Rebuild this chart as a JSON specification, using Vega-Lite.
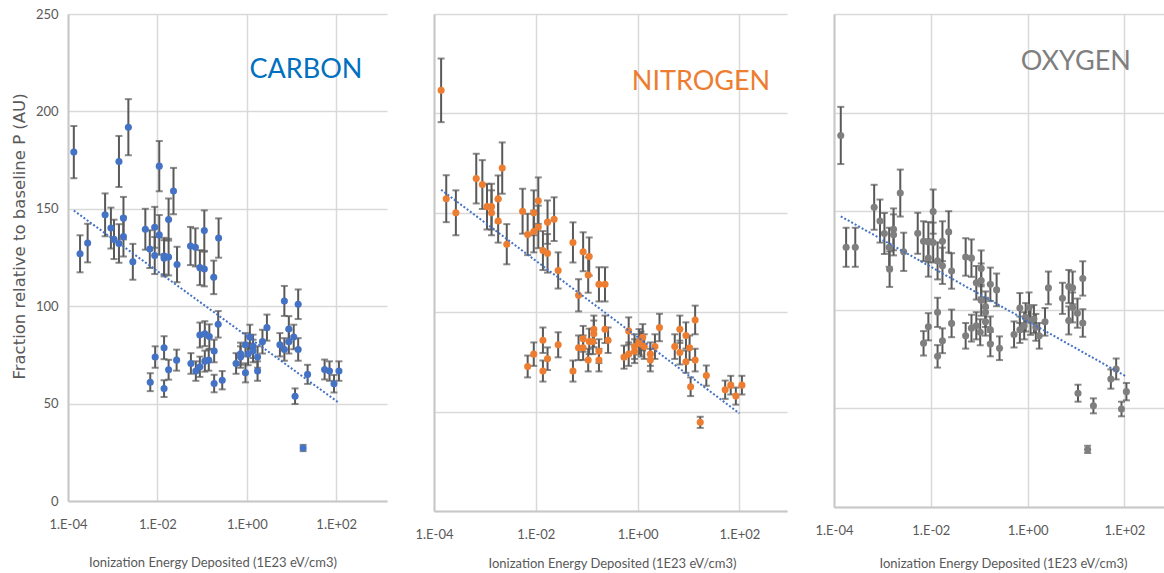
{
  "$schema": "https://vega.github.io/schema/vega-lite/v6.json",
  "padding": {"left": 11, "top": 8, "right": 0, "bottom": 0},
  "background": "white",
  "datasets": {
    "pts": [
      {"el":"C","x":0.000135,"y":179.1,"e":13.4},{"el":"C","x":0.000186,"y":126.9,"e":9.5},{"el":"C","x":0.000275,"y":132.4,"e":9.9},{"el":"C","x":0.000676,"y":146.9,"e":11.0},{"el":"C","x":0.000912,"y":140.1,"e":10.5},{"el":"C","x":0.00107,"y":134.3,"e":10.1},{"el":"C","x":0.00138,"y":174.3,"e":13.1},{"el":"C","x":0.00138,"y":132.2,"e":9.9},{"el":"C","x":0.00174,"y":135.7,"e":10.2},{"el":"C","x":0.00174,"y":145.2,"e":10.9},{"el":"C","x":0.00224,"y":191.9,"e":14.4},{"el":"C","x":0.00282,"y":122.8,"e":9.2},{"el":"C","x":0.00537,"y":139.5,"e":10.5},{"el":"C","x":0.00676,"y":129.3,"e":9.7},{"el":"C","x":0.00871,"y":140.5,"e":10.5},{"el":"C","x":0.00871,"y":126.0,"e":9.5},{"el":"C","x":0.0110,"y":171.9,"e":12.9},{"el":"C","x":0.0110,"y":136.6,"e":10.2},{"el":"C","x":0.0141,"y":125.7,"e":9.4},{"el":"C","x":0.0141,"y":124.6,"e":9.3},{"el":"C","x":0.0178,"y":144.5,"e":10.8},{"el":"C","x":0.0178,"y":125.2,"e":9.4},{"el":"C","x":0.0229,"y":159.1,"e":11.9},{"el":"C","x":0.0275,"y":121.4,"e":9.1},{"el":"C","x":0.0550,"y":130.9,"e":9.8},{"el":"C","x":0.0708,"y":130.2,"e":9.8},{"el":"C","x":0.0891,"y":119.8,"e":9.0},{"el":"C","x":0.112,"y":119.1,"e":8.9},{"el":"C","x":0.112,"y":138.8,"e":10.4},{"el":"C","x":0.182,"y":114.8,"e":8.6},{"el":"C","x":0.234,"y":135.0,"e":10.1},
      {"el":"C","x":0.229,"y":90.7,"e":6.8},{"el":"C","x":0.0891,"y":85.2,"e":6.4},{"el":"C","x":0.115,"y":85.9,"e":6.4},{"el":"C","x":0.145,"y":84.4,"e":6.3},{"el":"C","x":0.186,"y":77.0,"e":5.8},{"el":"C","x":0.141,"y":72.3,"e":5.4},{"el":"C","x":0.115,"y":71.8,"e":5.4},{"el":"C","x":0.0891,"y":68.9,"e":5.2},{"el":"C","x":0.0724,"y":66.7,"e":5.0},{"el":"C","x":0.0562,"y":70.6,"e":5.3},{"el":"C","x":0.0269,"y":72.3,"e":5.4},{"el":"C","x":0.0178,"y":67.4,"e":5.1},{"el":"C","x":0.0141,"y":78.7,"e":5.9},{"el":"C","x":0.00891,"y":73.9,"e":5.5},{"el":"C","x":0.00692,"y":61.0,"e":4.6},{"el":"C","x":0.0141,"y":57.7,"e":4.3},{"el":"C","x":0.186,"y":60.3,"e":4.5},{"el":"C","x":0.282,"y":62.0,"e":4.7},
      {"el":"C","x":0.575,"y":70.6,"e":5.3},{"el":"C","x":0.724,"y":73.9,"e":5.5},{"el":"C","x":0.724,"y":75.6,"e":5.7},{"el":"C","x":0.933,"y":65.8,"e":4.9},{"el":"C","x":0.933,"y":80.2,"e":6.0},{"el":"C","x":1.07,"y":75.4,"e":5.7},{"el":"C","x":1.17,"y":84.2,"e":6.3},{"el":"C","x":1.38,"y":79.4,"e":6.0},{"el":"C","x":1.38,"y":77.0,"e":5.8},{"el":"C","x":1.74,"y":73.9,"e":5.5},{"el":"C","x":1.74,"y":66.7,"e":5.0},{"el":"C","x":2.24,"y":81.8,"e":6.1},{"el":"C","x":2.82,"y":89.0,"e":6.7},{"el":"C","x":5.50,"y":80.2,"e":6.0},{"el":"C","x":6.92,"y":102.7,"e":7.7},{"el":"C","x":6.92,"y":77.8,"e":5.8},{"el":"C","x":8.71,"y":88.3,"e":6.6},{"el":"C","x":8.71,"y":81.8,"e":6.1},{"el":"C","x":11.2,"y":84.2,"e":6.3},{"el":"C","x":12.0,"y":53.8,"e":4.0},{"el":"C","x":14.1,"y":101.0,"e":7.6},{"el":"C","x":14.1,"y":77.8,"e":5.8},{"el":"C","x":18.2,"y":27.2,"e":1.6},{"el":"C","x":22.9,"y":65.0,"e":4.9},{"el":"C","x":55.0,"y":67.5,"e":5.1},{"el":"C","x":70.8,"y":66.7,"e":5.0},{"el":"C","x":89.1,"y":60.2,"e":4.5},{"el":"C","x":115,"y":66.7,"e":5.0},

      {"el":"N","x":0.000138,"y":211.6,"e":16.0},{"el":"N","x":0.000174,"y":157.1,"e":11.8},{"el":"N","x":0.000269,"y":150.0,"e":11.3},{"el":"N","x":0.000676,"y":167.2,"e":12.5},{"el":"N","x":0.000891,"y":164.2,"e":12.3},{"el":"N","x":0.00110,"y":153.1,"e":11.5},{"el":"N","x":0.00135,"y":153.1,"e":11.5},{"el":"N","x":0.00135,"y":150.0,"e":11.3},{"el":"N","x":0.00182,"y":157.0,"e":11.8},{"el":"N","x":0.00182,"y":145.9,"e":10.9},{"el":"N","x":0.00219,"y":172.5,"e":12.9},{"el":"N","x":0.00269,"y":134.2,"e":10.1},{"el":"N","x":0.00550,"y":150.8,"e":11.3},{"el":"N","x":0.00692,"y":139.1,"e":10.4},{"el":"N","x":0.00912,"y":150.0,"e":11.3},{"el":"N","x":0.00912,"y":140.6,"e":10.5},{"el":"N","x":0.0112,"y":156.1,"e":11.7},{"el":"N","x":0.0112,"y":142.9,"e":10.7},{"el":"N","x":0.0138,"y":131.0,"e":9.8},{"el":"N","x":0.0170,"y":129.6,"e":9.7},{"el":"N","x":0.0170,"y":145.3,"e":10.9},{"el":"N","x":0.0229,"y":146.8,"e":11.0},{"el":"N","x":0.0275,"y":121.0,"e":9.1},{"el":"N","x":0.0537,"y":135.1,"e":10.1},{"el":"N","x":0.0692,"y":108.5,"e":8.1},{"el":"N","x":0.0851,"y":130.4,"e":9.8},{"el":"N","x":0.112,"y":128.0,"e":9.6},{"el":"N","x":0.107,"y":118.7,"e":8.9},{"el":"N","x":0.174,"y":114.0,"e":8.6},{"el":"N","x":0.229,"y":114.0,"e":8.6},
      {"el":"N","x":0.00692,"y":72.7,"e":5.5},{"el":"N","x":0.00912,"y":78.9,"e":5.9},{"el":"N","x":0.0138,"y":85.9,"e":6.4},{"el":"N","x":0.0138,"y":70.4,"e":5.3},{"el":"N","x":0.0170,"y":76.6,"e":5.7},{"el":"N","x":0.0275,"y":83.6,"e":6.3},{"el":"N","x":0.0537,"y":70.4,"e":5.3},{"el":"N","x":0.0692,"y":82.1,"e":6.2},{"el":"N","x":0.0851,"y":86.6,"e":6.5},{"el":"N","x":0.0851,"y":82.1,"e":6.2},{"el":"N","x":0.107,"y":75.9,"e":5.7},{"el":"N","x":0.112,"y":85.3,"e":6.4},{"el":"N","x":0.138,"y":91.4,"e":6.9},{"el":"N","x":0.138,"y":89.1,"e":6.7},{"el":"N","x":0.132,"y":85.3,"e":6.4},{"el":"N","x":0.174,"y":80.4,"e":6.0},{"el":"N","x":0.174,"y":75.9,"e":5.7},{"el":"N","x":0.229,"y":91.4,"e":6.9},{"el":"N","x":0.263,"y":85.9,"e":6.4},
      {"el":"N","x":0.541,"y":77.4,"e":5.8},{"el":"N","x":0.668,"y":78.9,"e":5.9},{"el":"N","x":0.668,"y":90.6,"e":6.8},{"el":"N","x":0.871,"y":80.4,"e":6.0},{"el":"N","x":0.871,"y":82.7,"e":6.2},{"el":"N","x":1.07,"y":85.1,"e":6.4},{"el":"N","x":1.26,"y":87.4,"e":6.6},{"el":"N","x":1.35,"y":82.7,"e":6.2},{"el":"N","x":1.17,"y":84.0,"e":6.3},{"el":"N","x":1.78,"y":78.9,"e":5.9},{"el":"N","x":1.78,"y":75.9,"e":5.7},{"el":"N","x":2.19,"y":82.7,"e":6.2},{"el":"N","x":2.69,"y":92.3,"e":6.9},{"el":"N","x":5.37,"y":82.7,"e":6.2},{"el":"N","x":6.76,"y":91.4,"e":6.9},{"el":"N","x":6.76,"y":79.7,"e":6.0},{"el":"N","x":8.91,"y":88.3,"e":6.6},{"el":"N","x":8.91,"y":75.1,"e":5.6},{"el":"N","x":10.5,"y":82.1,"e":6.2},{"el":"N","x":11.0,"y":62.5,"e":4.7},{"el":"N","x":13.5,"y":96.1,"e":7.2},{"el":"N","x":13.5,"y":75.9,"e":5.7},{"el":"N","x":17.0,"y":44.6,"e":2.8},{"el":"N","x":22.4,"y":68.1,"e":5.1},{"el":"N","x":52.5,"y":61.0,"e":4.6},{"el":"N","x":67.6,"y":63.3,"e":4.7},{"el":"N","x":85.1,"y":57.8,"e":4.3},{"el":"N","x":112,"y":63.3,"e":4.7},

      {"el":"O","x":0.000138,"y":188.4,"e":14.5},{"el":"O","x":0.000178,"y":131.7,"e":9.9},{"el":"O","x":0.000275,"y":131.7,"e":9.9},{"el":"O","x":0.000676,"y":152.0,"e":11.4},{"el":"O","x":0.000891,"y":145.0,"e":10.9},{"el":"O","x":0.00110,"y":138.7,"e":10.4},{"el":"O","x":0.00138,"y":131.7,"e":9.9},{"el":"O","x":0.00141,"y":120.6,"e":9.0},{"el":"O","x":0.00170,"y":140.8,"e":10.6},{"el":"O","x":0.00170,"y":138.0,"e":10.4},{"el":"O","x":0.00234,"y":159.2,"e":11.9},{"el":"O","x":0.00275,"y":129.4,"e":9.7},{"el":"O","x":0.00537,"y":138.8,"e":10.4},{"el":"O","x":0.00708,"y":134.8,"e":10.1},{"el":"O","x":0.00891,"y":126.3,"e":9.5},{"el":"O","x":0.00891,"y":134.4,"e":10.1},{"el":"O","x":0.0112,"y":149.8,"e":11.2},{"el":"O","x":0.0112,"y":134.1,"e":10.1},{"el":"O","x":0.0138,"y":124.8,"e":9.4},{"el":"O","x":0.0174,"y":134.8,"e":10.1},{"el":"O","x":0.0174,"y":122.3,"e":9.2},{"el":"O","x":0.0234,"y":139.5,"e":10.5},{"el":"O","x":0.0269,"y":119.7,"e":9.0},{"el":"O","x":0.0525,"y":126.8,"e":9.5},{"el":"O","x":0.0692,"y":126.2,"e":9.5},{"el":"O","x":0.0871,"y":113.7,"e":8.5},{"el":"O","x":0.110,"y":114.9,"e":8.6},{"el":"O","x":0.110,"y":104.9,"e":7.9},{"el":"O","x":0.110,"y":121.0,"e":9.1},{"el":"O","x":0.135,"y":101.7,"e":7.6},{"el":"O","x":0.170,"y":112.9,"e":8.5},{"el":"O","x":0.229,"y":110.1,"e":8.3},
      {"el":"O","x":0.00708,"y":83.0,"e":6.2},{"el":"O","x":0.00891,"y":91.4,"e":6.9},{"el":"O","x":0.0138,"y":98.7,"e":7.4},{"el":"O","x":0.0138,"y":76.4,"e":5.7},{"el":"O","x":0.0174,"y":84.3,"e":6.3},{"el":"O","x":0.0269,"y":93.1,"e":7.0},{"el":"O","x":0.0525,"y":86.8,"e":6.5},{"el":"O","x":0.0692,"y":90.7,"e":6.8},{"el":"O","x":0.0871,"y":91.9,"e":6.9},{"el":"O","x":0.105,"y":88.6,"e":6.6},{"el":"O","x":0.135,"y":93.9,"e":7.0},{"el":"O","x":0.135,"y":98.7,"e":7.4},{"el":"O","x":0.170,"y":89.9,"e":6.7},{"el":"O","x":0.170,"y":82.6,"e":6.2},{"el":"O","x":0.263,"y":80.5,"e":6.0},
      {"el":"O","x":0.525,"y":87.5,"e":6.6},{"el":"O","x":0.692,"y":89.9,"e":6.7},{"el":"O","x":0.692,"y":100.9,"e":7.6},{"el":"O","x":0.851,"y":91.9,"e":6.9},{"el":"O","x":0.912,"y":96.2,"e":7.2},{"el":"O","x":1.07,"y":101.2,"e":7.6},{"el":"O","x":1.15,"y":94.4,"e":7.1},{"el":"O","x":1.35,"y":95.3,"e":7.1},{"el":"O","x":1.48,"y":91.1,"e":6.8},{"el":"O","x":1.74,"y":86.8,"e":6.5},{"el":"O","x":2.29,"y":93.9,"e":7.0},{"el":"O","x":2.69,"y":111.1,"e":8.3},{"el":"O","x":5.25,"y":105.8,"e":7.9},{"el":"O","x":7.08,"y":111.8,"e":8.4},{"el":"O","x":7.08,"y":94.6,"e":7.1},{"el":"O","x":8.51,"y":111.1,"e":8.3},{"el":"O","x":8.51,"y":101.2,"e":7.6},{"el":"O","x":10.7,"y":98.3,"e":7.4},{"el":"O","x":13.8,"y":115.9,"e":8.7},{"el":"O","x":13.8,"y":93.3,"e":7.0},{"el":"O","x":11.0,"y":57.7,"e":4.3},{"el":"O","x":17.4,"y":29.2,"e":1.8},{"el":"O","x":22.9,"y":51.3,"e":3.8},{"el":"O","x":52.5,"y":64.9,"e":4.9},{"el":"O","x":67.6,"y":70.0,"e":5.3},{"el":"O","x":87.1,"y":49.7,"e":3.7},{"el":"O","x":110,"y":58.5,"e":4.4}
    ],
    "trend": [
      {"el":"C","x":0.000135,"y":149.1},{"el":"C","x":115,"y":50.4},
      {"el":"N","x":0.000138,"y":161.6},{"el":"N","x":100,"y":49.1},
      {"el":"O","x":0.000138,"y":147.4},{"el":"O","x":107,"y":66.3}
    ]
  },
  "hconcat": [
    {
      "width": 319, "height": 487,
      "layer": [
        {
          "data": {"name": "pts"}, "transform": [{"filter": "datum.el === 'C'"}],
          "mark": {"type": "errorbar", "ticks": {"size": 7, "thickness": 2}, "thickness": 2, "color": "#595959"},
          "encoding": {
            "x": {"field": "x", "type": "quantitative", "scale": {"type": "log", "domain": [0.0001, 1368], "nice": false},
              "axis": {"values": [0.0001, 0.01, 1, 100], "labelExpr": "'1.E' + (round(log(datum.value)/LN10) < 0 ? '-' : '+') + '0' + abs(round(log(datum.value)/LN10))", "title": "Ionization Energy Deposited (1E23 eV/cm3)", "titlePadding": 25, "titleX": 144.5}},
            "y": {"field": "y", "type": "quantitative", "scale": {"domain": [0, 250], "nice": false},
              "axis": {"values": [0, 50, 100, 150, 200, 250], "title": "Fraction relative to baseline P (AU)", "titleFont": "DejaVu Sans", "titleFontSize": 16.5, "titlePadding": 8, "labelPadding": 10, "titleY": 222}},
            "yError": {"field": "e"}
          }
        },
        {
          "data": {"name": "pts"}, "transform": [{"filter": "datum.el === 'C'"}],
          "mark": {"type": "circle", "size": 50, "opacity": 1, "color": "#4472C4"},
          "encoding": {"x": {"field": "x", "type": "quantitative"}, "y": {"field": "y", "type": "quantitative"}}
        },
        {
          "data": {"name": "trend"}, "transform": [{"filter": "datum.el === 'C'"}],
          "mark": {"type": "line", "strokeDash": [2, 2], "strokeWidth": 2, "color": "#4472C4"},
          "encoding": {"x": {"field": "x", "type": "quantitative"}, "y": {"field": "y", "type": "quantitative"}}
        },
        {
          "data": {"values": [{}]},
          "mark": {"type": "text", "fontSize": 27, "color": "#0070C0", "align": "center", "baseline": "middle"},
          "encoding": {"x": {"datum": 21, "type": "quantitative"}, "y": {"datum": 221, "type": "quantitative"}, "text": {"value": "CARBON"}}
        }
      ]
    },
    {
      "width": 353, "height": 497,
      "layer": [
        {
          "data": {"name": "pts"}, "transform": [{"filter": "datum.el === 'N'"}],
          "mark": {"type": "errorbar", "ticks": {"size": 7, "thickness": 2}, "thickness": 2, "color": "#595959"},
          "encoding": {
            "x": {"field": "x", "type": "quantitative", "scale": {"type": "log", "domain": [0.0001, 861], "nice": false},
              "axis": {"values": [0.0001, 0.01, 1, 100], "labelExpr": "'1.E' + (round(log(datum.value)/LN10) < 0 ? '-' : '+') + '0' + abs(round(log(datum.value)/LN10))", "title": "Ionization Energy Deposited (1E23 eV/cm3)", "titlePadding": 16, "titleX": 178}},
            "y": {"field": "y", "type": "quantitative", "scale": {"domain": [0, 250], "nice": false},
              "axis": {"values": [0, 50, 100, 150, 200, 250], "labels": false, "title": null}},
            "yError": {"field": "e"}
          }
        },
        {
          "data": {"name": "pts"}, "transform": [{"filter": "datum.el === 'N'"}],
          "mark": {"type": "circle", "size": 50, "opacity": 1, "color": "#ED7D31"},
          "encoding": {"x": {"field": "x", "type": "quantitative"}, "y": {"field": "y", "type": "quantitative"}}
        },
        {
          "data": {"name": "trend"}, "transform": [{"filter": "datum.el === 'N'"}],
          "mark": {"type": "line", "strokeDash": [2, 2], "strokeWidth": 2, "color": "#4472C4"},
          "encoding": {"x": {"field": "x", "type": "quantitative"}, "y": {"field": "y", "type": "quantitative"}}
        },
        {
          "data": {"values": [{}]},
          "mark": {"type": "text", "fontSize": 27, "color": "#ED7D31", "align": "center", "baseline": "middle"},
          "encoding": {"x": {"datum": 17.6, "type": "quantitative"}, "y": {"datum": 216, "type": "quantitative"}, "text": {"value": "NITROGEN"}}
        }
      ]
    },
    {
      "width": 331, "height": 493,
      "layer": [
        {
          "data": {"name": "pts"}, "transform": [{"filter": "datum.el === 'O'"}],
          "mark": {"type": "errorbar", "ticks": {"size": 7, "thickness": 2}, "thickness": 2, "color": "#595959"},
          "encoding": {
            "x": {"field": "x", "type": "quantitative", "scale": {"type": "log", "domain": [0.0001, 690], "nice": false},
              "axis": {"values": [0.0001, 0.01, 1, 100], "labelExpr": "'1.E' + (round(log(datum.value)/LN10) < 0 ? '-' : '+') + '0' + abs(round(log(datum.value)/LN10))", "title": "Ionization Energy Deposited (1E23 eV/cm3)", "titlePadding": 20, "titleX": 169}},
            "y": {"field": "y", "type": "quantitative", "scale": {"domain": [0, 250], "nice": false},
              "axis": {"values": [0, 50, 100, 150, 200, 250], "labels": false, "title": null}},
            "yError": {"field": "e"}
          }
        },
        {
          "data": {"name": "pts"}, "transform": [{"filter": "datum.el === 'O'"}],
          "mark": {"type": "circle", "size": 50, "opacity": 1, "color": "#7F7F7F"},
          "encoding": {"x": {"field": "x", "type": "quantitative"}, "y": {"field": "y", "type": "quantitative"}}
        },
        {
          "data": {"name": "trend"}, "transform": [{"filter": "datum.el === 'O'"}],
          "mark": {"type": "line", "strokeDash": [2, 2], "strokeWidth": 2, "color": "#4472C4"},
          "encoding": {"x": {"field": "x", "type": "quantitative"}, "y": {"field": "y", "type": "quantitative"}}
        },
        {
          "data": {"values": [{}]},
          "mark": {"type": "text", "fontSize": 27, "color": "#7F7F7F", "align": "center", "baseline": "middle"},
          "encoding": {"x": {"datum": 9.9, "type": "quantitative"}, "y": {"datum": 225.6, "type": "quantitative"}, "text": {"value": "OXYGEN"}}
        }
      ]
    }
  ],
  "spacing": 47,
  "bounds": "flush",
  "config": {
    "font": "Lato",
    "view": {"stroke": null},
    "axis": {
      "grid": true, "gridColor": "#d9d9d9", "gridWidth": 1.5,
      "domainColor": "#c8c8c8", "domainWidth": 2,
      "ticks": false,
      "labelFont": "Lato", "titleFont": "Lato",
      "labelFontSize": 13, "titleFontSize": 13,
      "labelColor": "#595959", "titleColor": "#595959",
      "titleFontWeight": "normal",
      "labelFlush": false, "labelOverlap": false, "labelBound": false
    },
    "axisX": {"labelPadding": 17}
  }
}
